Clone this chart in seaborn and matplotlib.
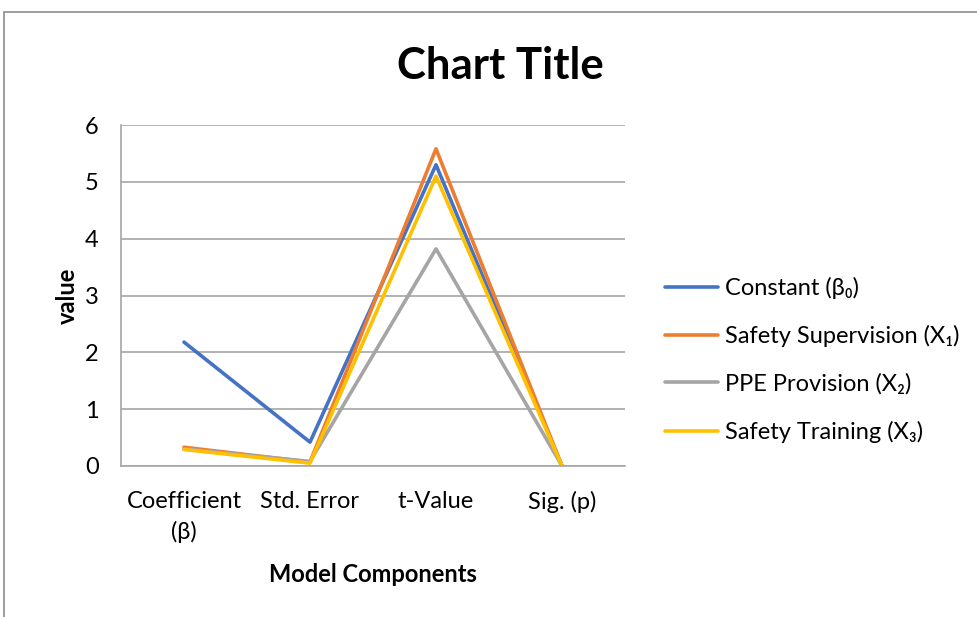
import matplotlib
matplotlib.use("Agg")
import matplotlib.pyplot as plt
import matplotlib.patches as patches
import pandas as pd
import seaborn as sns

components = ["Coefficient\n(β)", "Std. Error", "t-Value", "Sig. (p)"]
series_names = [
    "Constant (β₀)",
    "Safety Supervision (X₁)",
    "PPE Provision (X₂)",
    "Safety Training (X₃)",
]
constant = [2.18, 0.42, 5.30, 0.0]
supervision = [0.33, 0.07, 5.58, 0.0]
ppe = [0.30, 0.08, 3.82, 0.0]
training = [0.29, 0.05, 5.10, 0.0]
colors = ["#4472C4", "#ED7D31", "#A5A5A5", "#FFC000"]

rows = []
for name, vals in zip(series_names, [constant, supervision, ppe, training]):
    for i, v in enumerate(vals):
        rows.append({"pos": i, "value": v, "series": name})
df = pd.DataFrame(rows)

sns.set_theme(style="white")
plt.rcParams["font.family"] = ["Lato", "DejaVu Sans"]
plt.rcParams["text.color"] = "black"
plt.rcParams["axes.labelcolor"] = "black"
plt.rcParams["xtick.color"] = "black"
plt.rcParams["ytick.color"] = "black"

fig = plt.figure(figsize=(9.78, 6.17), dpi=100)
ax = fig.add_axes([121 / 978, 1 - 466 / 617, (625 - 121) / 978, (466 - 125) / 617])

sns.lineplot(data=df, x="pos", y="value", hue="series", hue_order=series_names,
             palette=colors, linewidth=2.6, sort=False, ax=ax, legend=True)

ax.set_xlim(-0.5, 3.5)
ax.set_ylim(0, 6)
ax.set_xticks(range(4))
ax.set_xticklabels(components, fontsize=17, linespacing=1.5)
ax.set_yticks(range(7))
ax.set_yticklabels([str(i) for i in range(7)], fontsize=17)
ax.tick_params(axis="x", length=0, pad=18)
ax.tick_params(axis="y", length=0, pad=16)
ax.yaxis.grid(True, color="#a6a6a6", linewidth=1.2)
ax.set_axisbelow(True)
for side in ["top", "right"]:
    ax.spines[side].set_visible(False)
ax.spines["left"].set_color("#a6a6a6")
ax.spines["bottom"].set_color("#a6a6a6")
ax.spines["left"].set_linewidth(1.2)
ax.spines["bottom"].set_linewidth(1.2)

ax.set_xlabel("Model Components", fontsize=17, fontweight="bold", labelpad=14)
ax.set_ylabel("value", fontsize=17, fontweight="bold", labelpad=4)

fig.text(500 / 978, 1 - 66 / 617, "Chart Title", ha="center", va="center",
         fontsize=31.5, fontweight="bold")

handles, labels = ax.get_legend_handles_labels()
ax.legend(handles, labels, loc="center left", bbox_to_anchor=(1.079, 0.311),
          frameon=False, fontsize=17, handlelength=2.25, labelspacing=1.1,
          handletextpad=0.3, borderpad=0, borderaxespad=0)

# outer chart border
fig.patches.append(patches.Rectangle((4 / 978, -0.1), 1.2, 1 - 12 / 617 + 0.1,
                                     transform=fig.transFigure, fill=False,
                                     edgecolor="#8c8c8c", linewidth=1.2))

fig.savefig("out.png", dpi=100)
